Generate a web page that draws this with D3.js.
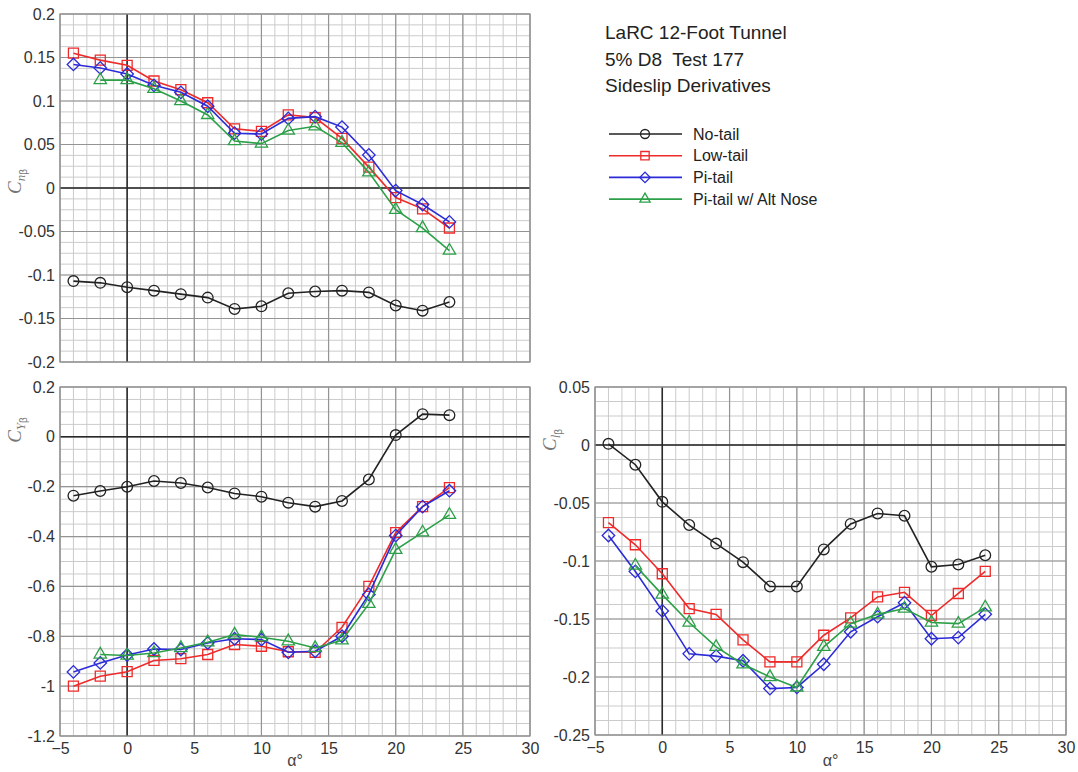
<!DOCTYPE html>
<html>
<head>
<meta charset="utf-8">
<script src="https://cdn.jsdelivr.net/npm/d3@7"></script>
<style>
  html, body { margin: 0; padding: 0; background: #fff; }
  svg { display: block; font-family: "Liberation Sans", Arial, Helvetica, sans-serif; }
</style>
</head>
<body>
<svg id="chart" width="1078" height="772"></svg>
<script>
// Angle of attack (deg)
const alpha = [-4, -2, 0, 2, 4, 6, 8, 10, 12, 14, 16, 18, 20, 22, 24];

// Configurations
const configs = ["No-tail", "Low-tail", "Pi-tail", "Pi-tail w/ Alt Nose"];
const colors = ["#222222", "#ee2a2a", "#2b2bd8", "#2ca048"];
const symbols = ["circle", "square", "diamond", "triangle"];

// Yawing-moment derivative Cn_beta
const cnNoTail   = [-0.107, -0.109, -0.114, -0.118, -0.122, -0.126, -0.139, -0.136, -0.121, -0.119, -0.118, -0.120, -0.135, -0.141, -0.131];
const cnLowTail  = [0.155, 0.147, 0.141, 0.123, 0.113, 0.098, 0.068, 0.065, 0.084, 0.081, 0.057, 0.024, -0.011, -0.024, -0.046];
const cnPiTail   = [0.142, 0.138, 0.131, 0.118, 0.110, 0.094, 0.063, 0.062, 0.080, 0.082, 0.070, 0.038, -0.003, -0.019, -0.039];
const cnPiAlt    = [null, 0.124, 0.124, 0.114, 0.100, 0.084, 0.054, 0.051, 0.066, 0.071, 0.052, 0.018, -0.025, -0.046, -0.072];

// Side-force derivative CY_beta
const cyNoTail   = [-0.236, -0.217, -0.200, -0.177, -0.185, -0.203, -0.227, -0.240, -0.264, -0.280, -0.257, -0.171, 0.007, 0.091, 0.087];
const cyLowTail  = [-1.000, -0.960, -0.942, -0.897, -0.890, -0.873, -0.833, -0.840, -0.862, -0.864, -0.764, -0.600, -0.384, -0.280, -0.204];
const cyPiTail   = [-0.943, -0.907, -0.875, -0.851, -0.853, -0.827, -0.810, -0.813, -0.864, -0.860, -0.800, -0.632, -0.396, -0.280, -0.216];
const cyPiAlt    = [null, -0.873, -0.877, -0.867, -0.847, -0.824, -0.793, -0.804, -0.820, -0.847, -0.816, -0.670, -0.453, -0.383, -0.313];

// Rolling-moment derivative Cl_beta
const clNoTail   = [0.001, -0.017, -0.049, -0.069, -0.085, -0.101, -0.122, -0.122, -0.090, -0.068, -0.059, -0.061, -0.105, -0.103, -0.095];
const clLowTail  = [-0.067, -0.086, -0.111, -0.141, -0.146, -0.168, -0.187, -0.187, -0.164, -0.149, -0.131, -0.127, -0.147, -0.128, -0.109];
const clPiTail   = [-0.078, -0.109, -0.143, -0.180, -0.182, -0.186, -0.210, -0.209, -0.189, -0.161, -0.148, -0.136, -0.167, -0.166, -0.146];
const clPiAlt    = [null, -0.104, -0.129, -0.153, -0.174, -0.189, -0.200, -0.209, -0.174, -0.154, -0.146, -0.141, -0.153, -0.154, -0.140];

// Axis tick values
const xTicks = [-5, 0, 5, 10, 15, 20, 25, 30];
const cnTicks = [0.2, 0.15, 0.1, 0.05, 0, -0.05, -0.1, -0.15, -0.2];
const cyTicks = [0.2, 0, -0.2, -0.4, -0.6, -0.8, -1, -1.2];
const clTicks = [0.05, 0, -0.05, -0.1, -0.15, -0.2, -0.25];

// Title block
const titleLines = ["LaRC 12-Foot Tunnel", "5% D8  Test 177", "Sideslip Derivatives"];

const svg = d3.select("#chart");

const symbolType = {
  circle: d3.symbolCircle,
  square: d3.symbolSquare,
  diamond: d3.symbolSquare,
  triangle: d3.symbolTriangle
};
const symbolSize = { circle: 90, square: 100, diamond: 78, triangle: 66 };
const symbolRot = { circle: 0, square: 0, diamond: 45, triangle: 0 };

function drawPanel(opts) {
  const { left, right, top, bottom, yDomain, yTicks, yMinorStep, series, showX, ylab } = opts;
  const x = d3.scaleLinear().domain([-5, 30]).range([left, right]);
  const y = d3.scaleLinear().domain(yDomain).range([bottom, top]);
  const g = svg.append("g");

  // minor grid
  const xMinor = d3.range(-5, 30.001, 1);
  const yMinor = d3.range(yDomain[0], yDomain[1] + 1e-9, yMinorStep);
  g.append("g").selectAll("line").data(xMinor).join("line")
    .attr("x1", d => x(d)).attr("x2", d => x(d)).attr("y1", top).attr("y2", bottom)
    .attr("stroke", "#cbcbcb").attr("stroke-width", 1);
  g.append("g").selectAll("line").data(yMinor).join("line")
    .attr("x1", left).attr("x2", right).attr("y1", d => y(d)).attr("y2", d => y(d))
    .attr("stroke", "#cbcbcb").attr("stroke-width", 1);

  // major grid
  g.append("g").selectAll("line").data(xTicks).join("line")
    .attr("x1", d => x(d)).attr("x2", d => x(d)).attr("y1", top).attr("y2", bottom)
    .attr("stroke", "#949494").attr("stroke-width", 1.2);
  g.append("g").selectAll("line").data(yTicks).join("line")
    .attr("x1", left).attr("x2", right).attr("y1", d => y(d)).attr("y2", d => y(d))
    .attr("stroke", "#949494").attr("stroke-width", 1.2);

  // zero lines
  g.append("line").attr("x1", x(0)).attr("x2", x(0)).attr("y1", top).attr("y2", bottom)
    .attr("stroke", "#2a2a2a").attr("stroke-width", 1.5);
  g.append("line").attr("x1", left).attr("x2", right).attr("y1", y(0)).attr("y2", y(0))
    .attr("stroke", "#2a2a2a").attr("stroke-width", 1.5);

  // frame
  g.append("rect").attr("x", left).attr("y", top).attr("width", right - left).attr("height", bottom - top)
    .attr("fill", "none").attr("stroke", "#949494").attr("stroke-width", 1.2);

  // y axis tick labels
  const yAxis = d3.axisLeft(y).tickValues(yTicks).tickSize(0).tickPadding(5)
    .tickFormat(d => String(+d.toFixed(3)));
  const ya = g.append("g").attr("transform", `translate(${left},0)`).call(yAxis);
  ya.select(".domain").remove();
  ya.selectAll("text").attr("font-size", 16).attr("fill", "#333")
    .attr("font-family", "'Liberation Sans', Arial, sans-serif");

  if (showX) {
    const xAxis = d3.axisBottom(x).tickValues(xTicks).tickSize(0).tickPadding(7);
    const xa = g.append("g").attr("transform", `translate(0,${bottom})`).call(xAxis);
    xa.select(".domain").remove();
    xa.selectAll("text").attr("font-size", 16).attr("fill", "#333")
      .attr("font-family", "'Liberation Sans', Arial, sans-serif");
    g.append("text").attr("x", (left + right) / 2).attr("y", 766)
      .attr("text-anchor", "middle").attr("font-size", 16).attr("fill", "#444")
      .text("α°");
  }

  // y axis title, C with subscript
  const lab = g.append("text")
    .attr("transform", `translate(${left - 39},${y(0) + 6}) rotate(-90)`)
    .attr("fill", "#777").attr("font-family", "'Liberation Serif', 'Times New Roman', serif")
    .attr("font-style", "italic").attr("text-anchor", "start");
  lab.append("tspan").attr("font-size", 19).text("C");
  lab.append("tspan").attr("font-size", 13).attr("dy", 4).text(ylab);
  lab.append("tspan").attr("font-size", 10).attr("dy", 2).attr("font-style", "normal")
    .attr("font-family", "'Liberation Sans', Arial, sans-serif").text("β");

  // data
  const line = d3.line().defined(d => d[1] != null).x(d => x(d[0])).y(d => y(d[1]));
  series.forEach((vals, i) => {
    const pts = alpha.map((a, k) => [a, vals[k]]);
    g.append("path").datum(pts).attr("d", line)
      .attr("fill", "none").attr("stroke", colors[i]).attr("stroke-width", 1.6);
    const sym = symbols[i];
    g.append("g").selectAll("path").data(pts.filter(d => d[1] != null)).join("path")
      .attr("transform", d => `translate(${x(d[0])},${y(d[1])}) rotate(${symbolRot[sym]})`)
      .attr("d", d3.symbol(symbolType[sym], symbolSize[sym]))
      .attr("fill", "none").attr("stroke", colors[i]).attr("stroke-width", 1.3);
  });
}

drawPanel({
  left: 60, right: 530, top: 14, bottom: 362,
  yDomain: [-0.2, 0.2], yTicks: cnTicks, yMinorStep: 0.0125,
  series: [cnNoTail, cnLowTail, cnPiTail, cnPiAlt], showX: false, ylab: "n"
});
drawPanel({
  left: 60, right: 530, top: 387, bottom: 736,
  yDomain: [-1.2, 0.2], yTicks: cyTicks, yMinorStep: 0.05,
  series: [cyNoTail, cyLowTail, cyPiTail, cyPiAlt], showX: true, ylab: "Y"
});
drawPanel({
  left: 595, right: 1066, top: 387, bottom: 735,
  yDomain: [-0.25, 0.05], yTicks: clTicks, yMinorStep: 0.0125,
  series: [clNoTail, clLowTail, clPiTail, clPiAlt], showX: true, ylab: "l"
});

// Title block
svg.append("g").selectAll("text").data(titleLines).join("text")
  .attr("x", 605).attr("y", (d, i) => 39 + i * 26.5)
  .attr("font-size", 19).attr("fill", "#222")
  .style("white-space", "pre")
  .text(d => d);

// Legend
const leg = svg.append("g");
configs.forEach((name, i) => {
  const yy = 134 + i * 21.7;
  leg.append("line").attr("x1", 609).attr("x2", 682).attr("y1", yy).attr("y2", yy)
    .attr("stroke", colors[i]).attr("stroke-width", 1.6);
  const sym = symbols[i];
  leg.append("path")
    .attr("transform", `translate(645,${yy}) rotate(${symbolRot[sym]})`)
    .attr("d", d3.symbol(symbolType[sym], symbolSize[sym] * 0.7))
    .attr("fill", "none").attr("stroke", colors[i]).attr("stroke-width", 1.3);
  leg.append("text").attr("x", 693).attr("y", yy + 5.5)
    .attr("font-size", 16).attr("fill", "#222").text(name);
});
</script>
</body>
</html>
